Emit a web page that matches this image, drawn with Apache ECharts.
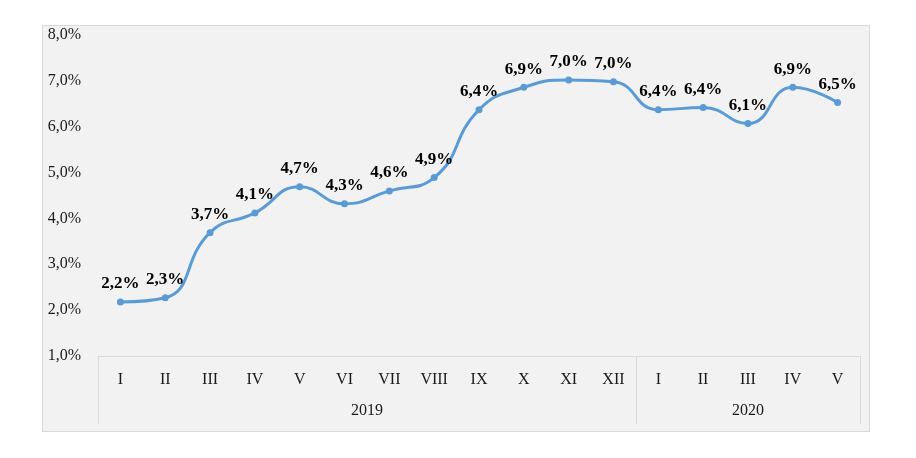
<!DOCTYPE html>
<html>
<head>
<meta charset="utf-8">
<script src="https://cdn.jsdelivr.net/npm/echarts@6/dist/echarts.min.js"></script>
<style>
html,body{margin:0;padding:0;background:#fff;}
#frame{position:absolute;left:42px;top:25px;width:826px;height:405px;border:1px solid #d9d9d9;background:#f2f2f2;}
#chart{width:826px;height:405px;}
</style>
</head>
<body>
<div id="frame"><div id="chart"></div></div>
<script>
var months = ['I','II','III','IV','V','VI','VII','VIII','IX','X','XI','XII','I','II','III','IV','V'];
var values = [2.18, 2.27, 3.69, 4.12, 4.69, 4.32, 4.60, 4.89, 6.37, 6.86, 7.02, 6.98, 6.37, 6.42, 6.07, 6.86, 6.53];
var years = ['2019', '2020'];
var yearCenters = [6, 14.5];
var yearBounds = [0, 12, 17];
var yTicks = {min: 1, max: 8, interval: 1};

function pct(v){ return v.toFixed(1).replace('.', ',') + '%'; }

var chart = echarts.init(document.getElementById('chart'));
chart.setOption({
  animation: false,
  textStyle: {fontFamily: 'Liberation Serif'},
  grid: {left: 55, top: 9, right: 9, bottom: 75},
  xAxis: [
    {
      type: 'category',
      data: months,
      boundaryGap: true,
      axisLine: {show: true, lineStyle: {color: '#d9d9d9', width: 1}},
      axisTick: {show: false},
      axisLabel: {color: '#1a1a1a', fontSize: 16, fontFamily: 'Liberation Serif', margin: 16},
      splitLine: {show: false}
    },
    {
      type: 'value',
      min: 0,
      max: 17,
      position: 'bottom',
      offset: 68,
      axisLine: {show: false},
      axisTick: {show: true, inside: true, length: 68, customValues: yearBounds, lineStyle: {color: '#d9d9d9', width: 1}},
      axisLabel: {
        show: true, customValues: yearCenters, margin: -21,
        color: '#1a1a1a', fontSize: 16, fontFamily: 'Liberation Serif',
        formatter: function(v){ var i = yearCenters.indexOf(v); return i >= 0 ? years[i] : ''; }
      },
      splitLine: {show: false}
    }
  ],
  yAxis: {
    type: 'value',
    min: yTicks.min,
    max: yTicks.max,
    interval: yTicks.interval,
    axisLine: {show: false},
    axisTick: {show: false},
    splitLine: {show: false},
    axisLabel: {color: '#1a1a1a', fontSize: 16, fontFamily: 'Liberation Serif', margin: 17, formatter: pct}
  },
  series: [{
    type: 'line',
    xAxisIndex: 0,
    data: values,
    smooth: 0.5,
    symbol: 'circle',
    symbolSize: 7,
    lineStyle: {color: '#5b9bd5', width: 3},
    itemStyle: {color: '#5b9bd5'},
    label: {
      show: true, position: 'top', distance: 6,
      fontFamily: 'Liberation Serif', fontWeight: 'bold', fontSize: 17, color: '#000',
      formatter: function(p){ return pct(p.value); }
    }
  }]
});
</script>
</body>
</html>
